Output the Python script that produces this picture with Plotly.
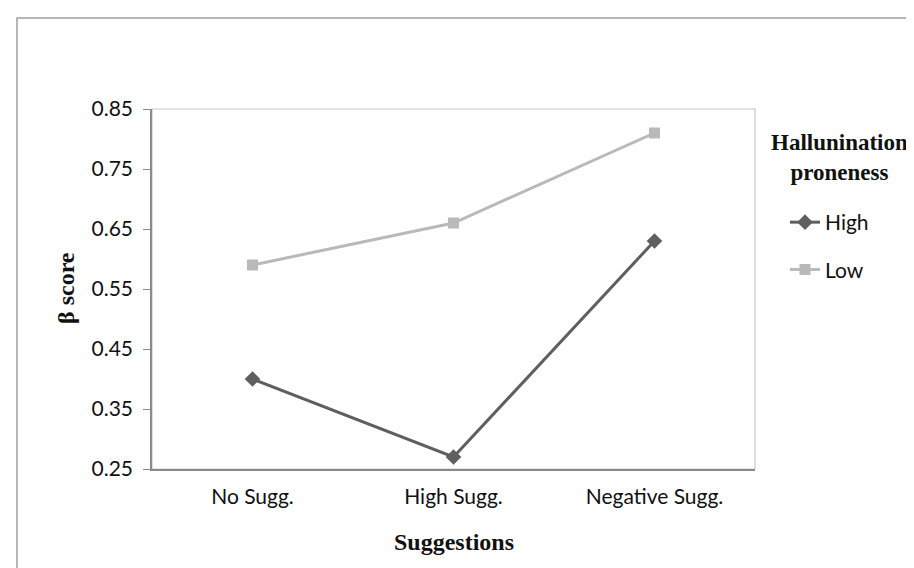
import plotly.graph_objects as go

categories = ["No Sugg.", "High Sugg.", "Negative Sugg."]
high_values = [0.40, 0.27, 0.63]
low_values = [0.59, 0.66, 0.81]
y_ticks = [0.25, 0.35, 0.45, 0.55, 0.65, 0.75, 0.85]

W, H = 914, 568
L, R, T, B = 144, 747, 101, 461

def px_x(x):
    return (x - L) / (R - L)

def px_y(y):
    return (B - y) / (B - T)

fig = go.Figure()
fig.add_trace(go.Scatter(
    x=categories, y=high_values, name="High", mode="lines+markers",
    line=dict(color="#5f5f5f", width=3),
    marker=dict(symbol="diamond", size=12, color="#5f5f5f"),
    legendgroup="a",
))
fig.add_trace(go.Scatter(
    x=categories, y=low_values, name="Low", mode="lines+markers",
    line=dict(color="#b9b9b9", width=3),
    marker=dict(symbol="square", size=11, color="#b9b9b9"),
    legendgroup="b",
))

serif = "Liberation Serif"
sans = "Lato"

fig.update_layout(
    width=W, height=H,
    margin=dict(l=L, r=W - R, t=T, b=H - B, pad=0),
    paper_bgcolor="white", plot_bgcolor="white",
    showlegend=True,
    legend=dict(
        x=px_x(777), y=px_y(194), xanchor="left", yanchor="top",
        font=dict(family=sans, size=21, color="#111"),
        tracegroupgap=17, traceorder="grouped",
        bgcolor="rgba(0,0,0,0)",
    ),
    xaxis=dict(
        type="category", range=[-0.5, 2.5], showgrid=False, zeroline=False,
        showline=True, linecolor="#8a8a8a", linewidth=1.5,
        ticks="", ticklabelstandoff=8,
        tickfont=dict(family=sans, size=21, color="#111"),
    ),
    yaxis=dict(
        range=[0.25, 0.85], tickvals=y_ticks, tickformat=".2f",
        showgrid=False, zeroline=False,
        showline=True, linecolor="#8a8a8a", linewidth=1.5,
        ticks="outside", ticklen=7, tickcolor="#8a8a8a",
        ticklabelstandoff=6,
        tickfont=dict(family=sans, size=21, color="#111"),
    ),
    shapes=[
        dict(type="rect", xref="paper", yref="paper", x0=0, x1=1, y0=0, y1=1,
             line=dict(color="#c8c8c8", width=1.2), layer="below"),
        dict(type="rect", xref="paper", yref="paper",
             x0=px_x(9), x1=px_x(1000), y0=px_y(650), y1=px_y(10),
             line=dict(color="#a0a0a0", width=1.5), layer="below"),
    ],
    annotations=[
        dict(text="<b>β score</b>", xref="paper", yref="paper",
             x=px_x(58), y=px_y(280), xanchor="center", yanchor="middle",
             textangle=-90, showarrow=False,
             font=dict(family=serif, size=24, color="#111")),
        dict(text="<b>Suggestions</b>", xref="paper", yref="paper",
             x=0.5, y=px_y(534), xanchor="center", yanchor="middle",
             showarrow=False,
             font=dict(family=serif, size=24, color="#111")),
        dict(text="<b>Hallunination<br>proneness</b>", xref="paper", yref="paper",
             x=px_x(831), y=px_y(149), xanchor="center", yanchor="middle",
             showarrow=False, align="center",
             font=dict(family=serif, size=23, color="#111")),
    ],
)

fig.write_html("out.html")
